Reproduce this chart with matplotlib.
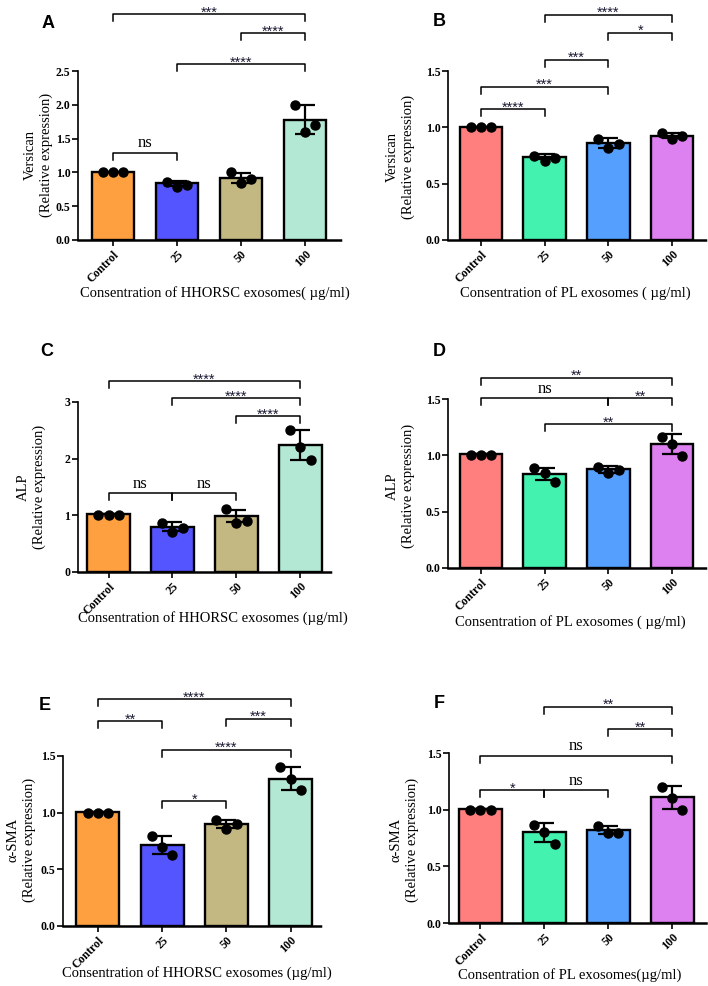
import matplotlib
matplotlib.use("Agg")
import matplotlib.pyplot as plt
import numpy as np

# ---------------- data ----------------
categories = ["Control", "25", "50", "100"]

colors_hhorsc = ["#FFA040", "#5555FF", "#C4B882", "#B3E8D4"]
colors_pl = ["#FF7F7F", "#44F2B0", "#55A0FF", "#DD80F0"]

# Panel A: Versican, HHORSC
a_means = [1.01, 0.84, 0.92, 1.78]
a_sd = [0.0, 0.04, 0.07, 0.21]
a_points = [[1.0, 1.0, 1.0], [0.86, 0.78, 0.82], [1.0, 0.84, 0.90], [2.0, 1.60, 1.70]]
a_brackets = [(0, 1, "ns", 1.29), (1, 3, "****", 2.60), (2, 3, "****", 3.06), (0, 3, "***", 3.34)]

# Panel B: Versican, PL
b_means = [1.0, 0.74, 0.864, 0.926]
b_sd = [0.0, 0.02, 0.045, 0.02]
b_points = [[1.0, 1.0, 1.0], [0.75, 0.70, 0.725], [0.90, 0.82, 0.85], [0.95, 0.90, 0.92]]
b_brackets = [(0, 1, "****", 1.16), (0, 2, "***", 1.36), (1, 2, "***", 1.60), (2, 3, "*", 1.84), (1, 3, "****", 2.0)]

# Panel C: ALP, HHORSC
c_means = [1.02, 0.80, 0.99, 2.24]
c_sd = [0.0, 0.08, 0.11, 0.27]
c_points = [[1.0, 1.0, 1.0], [0.87, 0.70, 0.77], [1.11, 0.87, 0.90], [2.51, 2.20, 1.97]]
c_brackets = [(0, 1, "ns", 1.39), (1, 2, "ns", 1.39), (2, 3, "****", 2.75), (1, 3, "****", 3.07), (0, 3, "****", 3.37)]

# Panel D: ALP, PL
d_means = [1.01, 0.835, 0.877, 1.10]
d_sd = [0.0, 0.055, 0.03, 0.085]
d_points = [[1.0, 1.0, 1.0], [0.89, 0.84, 0.76], [0.90, 0.84, 0.87], [1.16, 1.10, 0.995]]
d_brackets = [(0, 2, "ns", 1.506), (2, 3, "**", 1.506), (0, 3, "**", 1.69), (1, 3, "**", 1.275)]

# Panel E: alpha-SMA, HHORSC
e_means = [1.007, 0.713, 0.898, 1.30]
e_sd = [0.0, 0.08, 0.035, 0.10]
e_points = [[1.0, 1.0, 1.0], [0.795, 0.70, 0.625], [0.933, 0.86, 0.904], [1.40, 1.30, 1.20]]
e_brackets = [(1, 2, "*", 1.10), (1, 3, "****", 1.556), (2, 3, "***", 1.83), (0, 1, "**", 1.805), (0, 3, "****", 2.0)]

# Panel F: alpha-SMA, PL
f_means = [1.003, 0.80, 0.824, 1.109]
f_sd = [0.0, 0.085, 0.035, 0.10]
f_points = [[1.0, 1.0, 1.0], [0.868, 0.80, 0.70], [0.853, 0.794, 0.79], [1.20, 1.10, 0.994]]
f_brackets = [(0, 1, "*", 1.17), (1, 2, "ns", 1.17), (0, 3, "ns", 1.476), (2, 3, "**", 1.71), (1, 3, "**", 1.91)]

# ---------------- layout ----------------
W, H = 708, 986
fig = plt.figure(figsize=(W / 100, H / 100), dpi=100)

SERIF = ["Liberation Serif", "DejaVu Serif"]
SANS = ["Liberation Sans", "DejaVu Sans"]

panels = [
    dict(letter="A", means=a_means, sd=a_sd, pts=a_points, br=a_brackets, colors=colors_hhorsc,
         ylim=2.5, yticks=[0.0, 0.5, 1.0, 1.5, 2.0, 2.5], fmt="{:.1f}",
         rect=(78, 343, 71, 240), xl=(-0.547, 3.594),
         ylab="Versican\n(Relative expression)", ylab_pos=(38, 155),
         xlab="Consentration of HHORSC exosomes( µg/ml)", xlab_pos=(215, 293),
         letter_pos=(48, 23)),
    dict(letter="B", means=b_means, sd=b_sd, pts=b_points, br=b_brackets, colors=colors_pl,
         ylim=1.5, yticks=[0.0, 0.5, 1.0, 1.5], fmt="{:.1f}",
         rect=(448, 706, 71, 240), xl=(-0.518, 3.534),
         ylab="Versican\n(Relative expression)", ylab_pos=(400, 157),
         xlab="Consentration of PL exosomes ( µg/ml)", xlab_pos=(575, 293),
         letter_pos=(439, 21)),
    dict(letter="C", means=c_means, sd=c_sd, pts=c_points, br=c_brackets, colors=colors_hhorsc,
         ylim=3.0, yticks=[0, 1, 2, 3], fmt="{:.0f}",
         rect=(78, 333, 402, 572), xl=(-0.477, 3.51),
         ylab="ALP\n(Relative expression)", ylab_pos=(31, 487),
         xlab="Consentration of HHORSC exosomes (µg/ml)", xlab_pos=(213, 618),
         letter_pos=(47, 352)),
    dict(letter="D", means=d_means, sd=d_sd, pts=d_points, br=d_brackets, colors=colors_pl,
         ylim=1.5, yticks=[0.0, 0.5, 1.0, 1.5], fmt="{:.1f}",
         rect=(448, 706, 399, 568), xl=(-0.518, 3.534),
         ylab="ALP\n(Relative expression)", ylab_pos=(400, 486),
         xlab="Consentration of PL exosomes ( µg/ml)", xlab_pos=(570, 622),
         letter_pos=(439, 351)),
    dict(letter="E", means=e_means, sd=e_sd, pts=e_points, br=e_brackets, colors=colors_hhorsc,
         ylim=1.5, yticks=[0.0, 0.5, 1.0, 1.5], fmt="{:.1f}",
         rect=(63, 323, 756, 926), xl=(-0.545, 3.506),
         ylab="α-SMA\n(Relative expression)", ylab_pos=(21, 840),
         xlab="Consentration of HHORSC exosomes (µg/ml)", xlab_pos=(197, 973),
         letter_pos=(45, 705)),
    dict(letter="F", means=f_means, sd=f_sd, pts=f_points, br=f_brackets, colors=colors_pl,
         ylim=1.5, yticks=[0.0, 0.5, 1.0, 1.5], fmt="{:.1f}",
         rect=(449, 706, 753, 923), xl=(-0.493, 3.53),
         ylab="α-SMA\n(Relative expression)", ylab_pos=(404, 840),
         xlab="Consentration of PL exosomes(µg/ml)", xlab_pos=(570, 975),
         letter_pos=(439, 703)),
]

jitter = [-0.16, 0.0, 0.16]

for p in panels:
    x0, x1, y0, y1 = p["rect"]
    ax = fig.add_axes([x0 / W, 1 - y1 / H, (x1 - x0) / W, (y1 - y0) / H])
    x = np.arange(len(categories))
    ax.bar(x, p["means"], width=0.67, color=p["colors"], edgecolor="black", linewidth=1.7, zorder=2)
    ax.errorbar(x, p["means"], yerr=p["sd"], fmt="none", ecolor="black", elinewidth=1.6,
                capsize=7.5, capthick=1.6, zorder=3)
    for i, vals in enumerate(p["pts"]):
        ax.plot(x[i] + np.array(jitter), vals, "o", color="black", ms=6.5, zorder=4, clip_on=False)

    ax.set_xlim(*p["xl"])
    ax.set_ylim(0, p["ylim"])
    ax.set_yticks(p["yticks"])
    ax.set_yticklabels([p["fmt"].format(t) for t in p["yticks"]], fontfamily=SERIF,
                       fontweight="bold", fontsize=8.5)
    ax.set_xticks(x)
    ax.set_xticklabels(categories, rotation=45, ha="right", va="top", rotation_mode="anchor",
                       fontfamily=SERIF, fontweight="bold", fontsize=8.5)
    ax.tick_params(axis="y", length=4, width=1.2, pad=1.5)
    ax.tick_params(axis="x", length=4, width=1.2, pad=2)
    for s in ["top", "right"]:
        ax.spines[s].set_visible(False)
    ax.spines["left"].set_linewidth(1.2)
    ax.spines["bottom"].set_linewidth(1.8)
    ax.spines["bottom"].set_linestyle((0, (1, 1)))
    ax.patch.set_alpha(0)

    # significance brackets
    ppu = (y1 - y0) / p["ylim"]          # pixels per data unit
    drop = 7.0 / ppu
    for (i, j, lab, lev) in p["br"]:
        xa, xb = x[i], x[j]
        ax.plot([xa, xa, xb, xb], [lev - drop, lev, lev, lev - drop], color="black",
                lw=1.1, clip_on=False, zorder=5)
        if lab == "ns":
            ax.text((xa + xb) / 2, lev + 1.5 / ppu, lab, ha="center", va="bottom",
                    fontfamily=SERIF, fontsize=12, clip_on=False)
        else:
            ax.text((xa + xb) / 2, lev - 2.5 / ppu, lab, ha="center", va="baseline",
                    fontfamily=SANS, fontsize=10.5, color="#1a1a33", clip_on=False)

    fig.text(p["ylab_pos"][0] / W, 1 - p["ylab_pos"][1] / H, p["ylab"], rotation=90,
             ha="center", va="center", multialignment="center", fontfamily=SERIF,
             fontsize=10.5, linespacing=1.25)
    fig.text(p["xlab_pos"][0] / W, 1 - p["xlab_pos"][1] / H, p["xlab"], ha="center",
             va="center", fontfamily=SERIF, fontsize=10.5)
    fig.text(p["letter_pos"][0] / W, 1 - p["letter_pos"][1] / H, p["letter"], ha="center",
             va="center", fontfamily=SANS, fontweight="bold", fontsize=13)

fig.savefig("out.png", dpi=100)
